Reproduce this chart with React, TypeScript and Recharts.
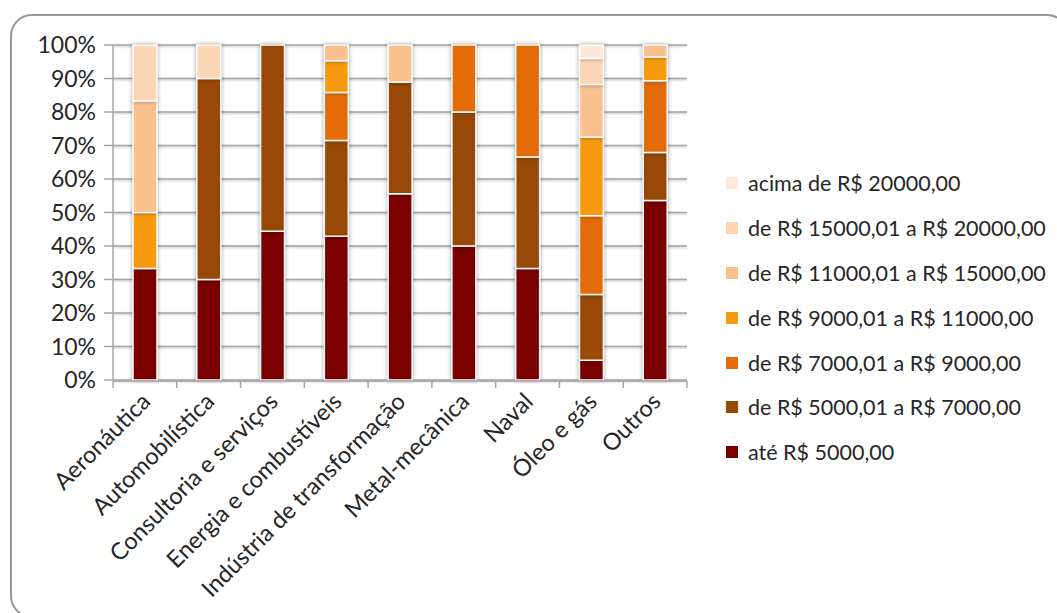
import React from "react";
import { BarChart, Bar, XAxis, YAxis, CartesianGrid } from "recharts";

// Sectors on the category axis
const sectors = [
  "Aeronáutica",
  "Automobilística",
  "Consultoria e serviços",
  "Energia e combustíveis",
  "Indústria de transformação",
  "Metal-mecânica",
  "Naval",
  "Óleo e gás",
  "Outros",
];

// Share of professionals (%) in each salary bracket, per sector
const ate5000 = [33.3, 30, 44.4, 42.9, 55.6, 40, 33.3, 5.9, 53.6];
const de5000a7000 = [0, 60, 55.6, 28.6, 33.3, 40, 33.3, 19.6, 14.3];
const de7000a9000 = [0, 0, 0, 14.3, 0, 20, 33.4, 23.5, 21.4];
const de9000a11000 = [16.7, 0, 0, 9.5, 0, 0, 0, 23.5, 7.1];
const de11000a15000 = [33.3, 0, 0, 4.7, 11.1, 0, 0, 15.7, 3.6];
const de15000a20000 = [16.7, 10, 0, 0, 0, 0, 0, 7.8, 0];
const acima20000 = [0, 0, 0, 0, 0, 0, 0, 4.0, 0];

const yTicks = [0, 10, 20, 30, 40, 50, 60, 70, 80, 90, 100];

// Series in stacking order (bottom to top)
const series = [
  { key: "ate5000", name: "até R$ 5000,00", color: "#7B0000", values: ate5000 },
  { key: "de5000a7000", name: "de R$ 5000,01 a R$ 7000,00", color: "#984807", values: de5000a7000 },
  { key: "de7000a9000", name: "de R$ 7000,01 a R$ 9000,00", color: "#E36C09", values: de7000a9000 },
  { key: "de9000a11000", name: "de R$ 9000,01 a R$ 11000,00", color: "#F79A10", values: de9000a11000 },
  { key: "de11000a15000", name: "de R$ 11000,01 a R$ 15000,00", color: "#FAC090", values: de11000a15000 },
  { key: "de15000a20000", name: "de R$ 15000,01 a R$ 20000,00", color: "#FCD5B5", values: de15000a20000 },
  { key: "acima20000", name: "acima de R$ 20000,00", color: "#FDE9D9", values: acima20000 },
];

const data = sectors.map((sector, i) => {
  const row: Record<string, string | number> = { sector, idx: i };
  series.forEach((s) => {
    row[s.key] = s.values[i];
  });
  return row;
});

// Boundaries between sectors, where the axis tick marks sit
const edgeTicks = sectors.map((_, i) => i).concat([sectors.length]);

const FONT = "Lato, 'Open Sans', sans-serif";
const TEXT_COLOR = "#262626";
const GRID_COLOR = "#A6A6A6";

const SectorTick = (props: any) => {
  const { x, y, payload } = props;
  const ax = x + 7;
  const ay = y + 15;
  return (
    <text
      x={ax}
      y={ay}
      transform={`rotate(-45, ${ax}, ${ay})`}
      textAnchor="end"
      fontFamily={FONT}
      fontSize={23.5}
      fill={TEXT_COLOR}
    >
      {payload.value}
    </text>
  );
};

const EmptyTick = () => <g />;

const css = `
  .bar-seg .recharts-rectangle { filter: drop-shadow(0px 0px 2px rgba(0,0,0,0.35)); }
  .recharts-cartesian-grid-horizontal line { filter: drop-shadow(0px 1.5px 1px rgba(0,0,0,0.25)); }
`;

export default function App() {
  const legendItems = [...series].reverse();
  return (
    <div
      style={{
        position: "fixed",
        left: 0,
        top: 0,
        width: 1057,
        height: 613,
        background: "#fff",
        overflow: "hidden",
      }}
    >
      <style>{css}</style>
      <div
        style={{
          position: "absolute",
          left: 10,
          top: 14,
          width: 1055,
          height: 600,
          border: "2.5px solid #969696",
          borderRadius: 22,
        }}
      />
      <div style={{ position: "absolute", left: 0, top: 0 }}>
        <BarChart
          width={1057}
          height={613}
          data={data}
          margin={{ top: 45, right: 370, bottom: 231, left: 0 }}
        >
          <CartesianGrid
            vertical={false}
            stroke={GRID_COLOR}
            strokeWidth={1.5}
            yAxisId="pct"
            xAxisId="cat"
          />
          <XAxis
            xAxisId="edge"
            type="number"
            dataKey="idx"
            domain={[0, sectors.length]}
            ticks={edgeTicks}
            interval={0}
            height={1}
            tick={<EmptyTick />}
            tickSize={7}
            stroke={GRID_COLOR}
            strokeWidth={1.5}
          />
          <XAxis
            xAxisId="cat"
            dataKey="sector"
            height={1}
            axisLine={false}
            tickLine={false}
            interval={0}
            tick={<SectorTick />}
          />
          <YAxis
            yAxisId="pct"
            width={113}
            domain={[0, 100]}
            ticks={yTicks}
            interval={0}
            tickSize={9}
            tickMargin={8}
            tickFormatter={(v: number) => `${v}%`}
            stroke={GRID_COLOR}
            strokeWidth={1.5}
            tick={{ fontFamily: FONT, fontSize: 23, fill: TEXT_COLOR }}
          />
          {series.map((s) => (
            <Bar
              key={s.key}
              className="bar-seg"
              dataKey={s.key}
              name={s.name}
              stackId="total"
              xAxisId="cat"
              yAxisId="pct"
              fill={s.color}
              stroke="#ffffff"
              strokeWidth={1.5}
              barSize={24}
              isAnimationActive={false}
            />
          ))}
        </BarChart>
      </div>
      <div
        style={{
          position: "absolute",
          left: 726,
          top: 161,
          fontFamily: FONT,
          fontSize: 21.5,
          color: TEXT_COLOR,
        }}
      >
        {legendItems.map((s) => (
          <div
            key={s.key}
            style={{ display: "flex", alignItems: "center", height: 44.8, whiteSpace: "nowrap" }}
          >
            <span
              style={{
                display: "inline-block",
                width: 12,
                height: 12,
                background: s.color,
                marginRight: 10,
              }}
            />
            <span>{s.name}</span>
          </div>
        ))}
      </div>
    </div>
  );
}
